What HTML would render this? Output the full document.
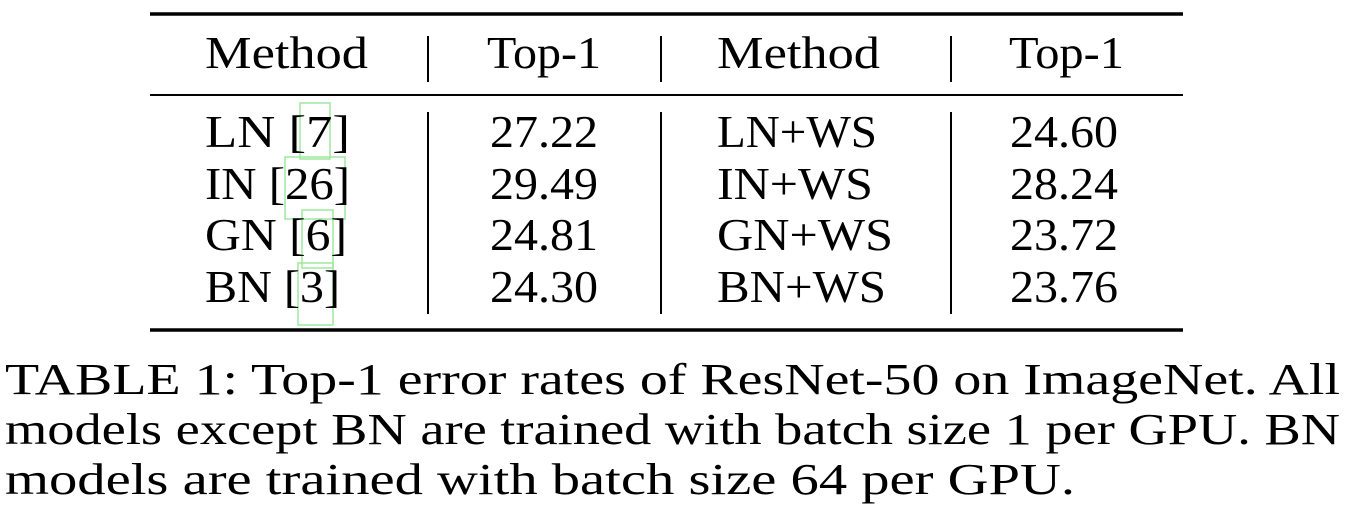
<!DOCTYPE html>
<html><head><meta charset="utf-8"><style>
html,body{margin:0;padding:0;background:#fff;width:1348px;height:522px;overflow:hidden}
svg text{font-family:"Liberation Serif",serif;fill:#000}
</style></head><body>
<svg width="1348" height="522" viewBox="0 0 1348 522" xmlns="http://www.w3.org/2000/svg">
<g stroke="#000">
<line x1="150" y1="14" x2="1183" y2="14" stroke-width="3.5"/>
<line x1="150" y1="95" x2="1183" y2="95" stroke-width="2"/>
<line x1="150" y1="330" x2="1183" y2="330" stroke-width="3.5"/>
<g stroke-width="2">
<line x1="428" y1="36" x2="428" y2="82"/><line x1="661" y1="36" x2="661" y2="82"/><line x1="951" y1="36" x2="951" y2="82"/>
<line x1="428" y1="112" x2="428" y2="314"/><line x1="661" y1="112" x2="661" y2="314"/><line x1="951" y1="112" x2="951" y2="314"/>
</g>
</g>
<g fill="none" stroke="#9ee89e" stroke-width="1.5">
<rect x="300" y="103" width="30" height="56"/>
<rect x="285" y="157" width="60" height="62"/>
<rect x="302" y="210" width="31" height="58"/>
<rect x="298" y="263" width="35" height="62"/>
</g>
<g font-size="46">
<text x="205" y="68" textLength="163" lengthAdjust="spacingAndGlyphs">Method</text>
<text x="487" y="68" textLength="114" lengthAdjust="spacingAndGlyphs">Top-1</text>
<text x="717" y="68" textLength="163" lengthAdjust="spacingAndGlyphs">Method</text>
<text x="1009" y="68" textLength="115" lengthAdjust="spacingAndGlyphs">Top-1</text>
</g>
<g font-size="46">
<text x="205" y="147" textLength="145" lengthAdjust="spacingAndGlyphs">LN [7]</text>
<text x="490" y="147" textLength="108" lengthAdjust="spacingAndGlyphs">27.22</text>
<text x="717" y="147" textLength="160" lengthAdjust="spacingAndGlyphs">LN+WS</text>
<text x="1010" y="147" textLength="108" lengthAdjust="spacingAndGlyphs">24.60</text>
<text x="205" y="199" textLength="145" lengthAdjust="spacingAndGlyphs">IN [26]</text>
<text x="490" y="199" textLength="108" lengthAdjust="spacingAndGlyphs">29.49</text>
<text x="717" y="199" textLength="156" lengthAdjust="spacingAndGlyphs">IN+WS</text>
<text x="1010" y="199" textLength="108" lengthAdjust="spacingAndGlyphs">28.24</text>
<text x="205" y="250" textLength="142" lengthAdjust="spacingAndGlyphs">GN [6]</text>
<text x="490" y="250" textLength="108" lengthAdjust="spacingAndGlyphs">24.81</text>
<text x="717" y="250" textLength="176" lengthAdjust="spacingAndGlyphs">GN+WS</text>
<text x="1010" y="250" textLength="108" lengthAdjust="spacingAndGlyphs">23.72</text>
<text x="205" y="302" textLength="135" lengthAdjust="spacingAndGlyphs">BN [3]</text>
<text x="490" y="302" textLength="108" lengthAdjust="spacingAndGlyphs">24.30</text>
<text x="717" y="302" textLength="169" lengthAdjust="spacingAndGlyphs">BN+WS</text>
<text x="1010" y="302" textLength="108" lengthAdjust="spacingAndGlyphs">23.76</text>
</g>
<g font-size="44">
<text x="5" y="394" textLength="1335" lengthAdjust="spacingAndGlyphs">TABLE 1: Top-1 error rates of ResNet-50 on ImageNet. All</text>
<text x="5" y="444" textLength="1335" lengthAdjust="spacingAndGlyphs">models except BN are trained with batch size 1 per GPU. BN</text>
<text x="5" y="494" textLength="1070" lengthAdjust="spacingAndGlyphs">models are trained with batch size 64 per GPU.</text>
</g>
</svg>
</body></html>
